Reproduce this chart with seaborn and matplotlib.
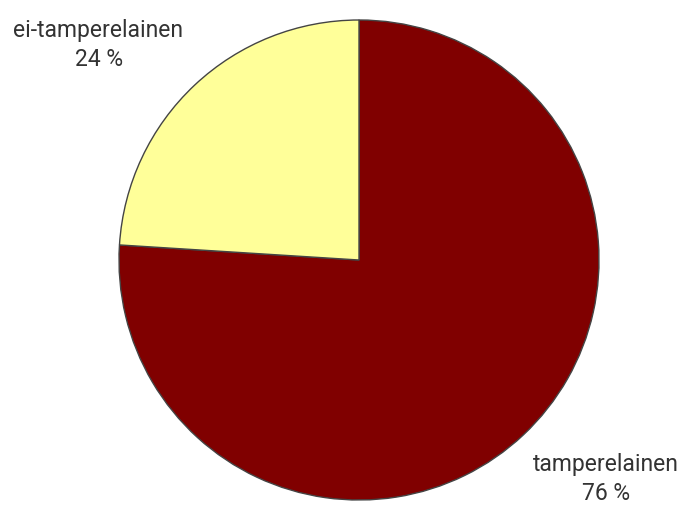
import seaborn as sns
import matplotlib
matplotlib.use("Agg")
from matplotlib import pyplot as plt

# data
labels = ["tamperelainen", "ei-tamperelainen"]
shares = [76, 24]
colors = ["#800000", "#FFFF99"]

sns.set_theme(style="white")
plt.rcParams['font.family'] = ['Roboto', 'DejaVu Sans']

fig = plt.figure(figsize=(6.86, 5.07), dpi=100)
ax = fig.add_axes([0, 0, 1, 1])

# pie in pixel coords
ax.pie(shares, colors=colors, startangle=90, counterclock=False,
       center=(359, 247), radius=240,
       wedgeprops=dict(edgecolor="#444444", linewidth=1))

ax.set_xlim(0, 686)
ax.set_ylim(0, 507)
ax.set_aspect("equal")
ax.axis("off")

# labels (name line + percent line)
txt = dict(ha="center", va="baseline", fontsize=16.5, color="#333333")
ax.text(98, 507 - 37, labels[1], **txt)
ax.text(99, 507 - 66, f"{shares[1]} %", **txt)
ax.text(606, 507 - 471, labels[0], **txt)
ax.text(606, 507 - 500, f"{shares[0]} %", **txt)

fig.savefig("out.png", dpi=100)
